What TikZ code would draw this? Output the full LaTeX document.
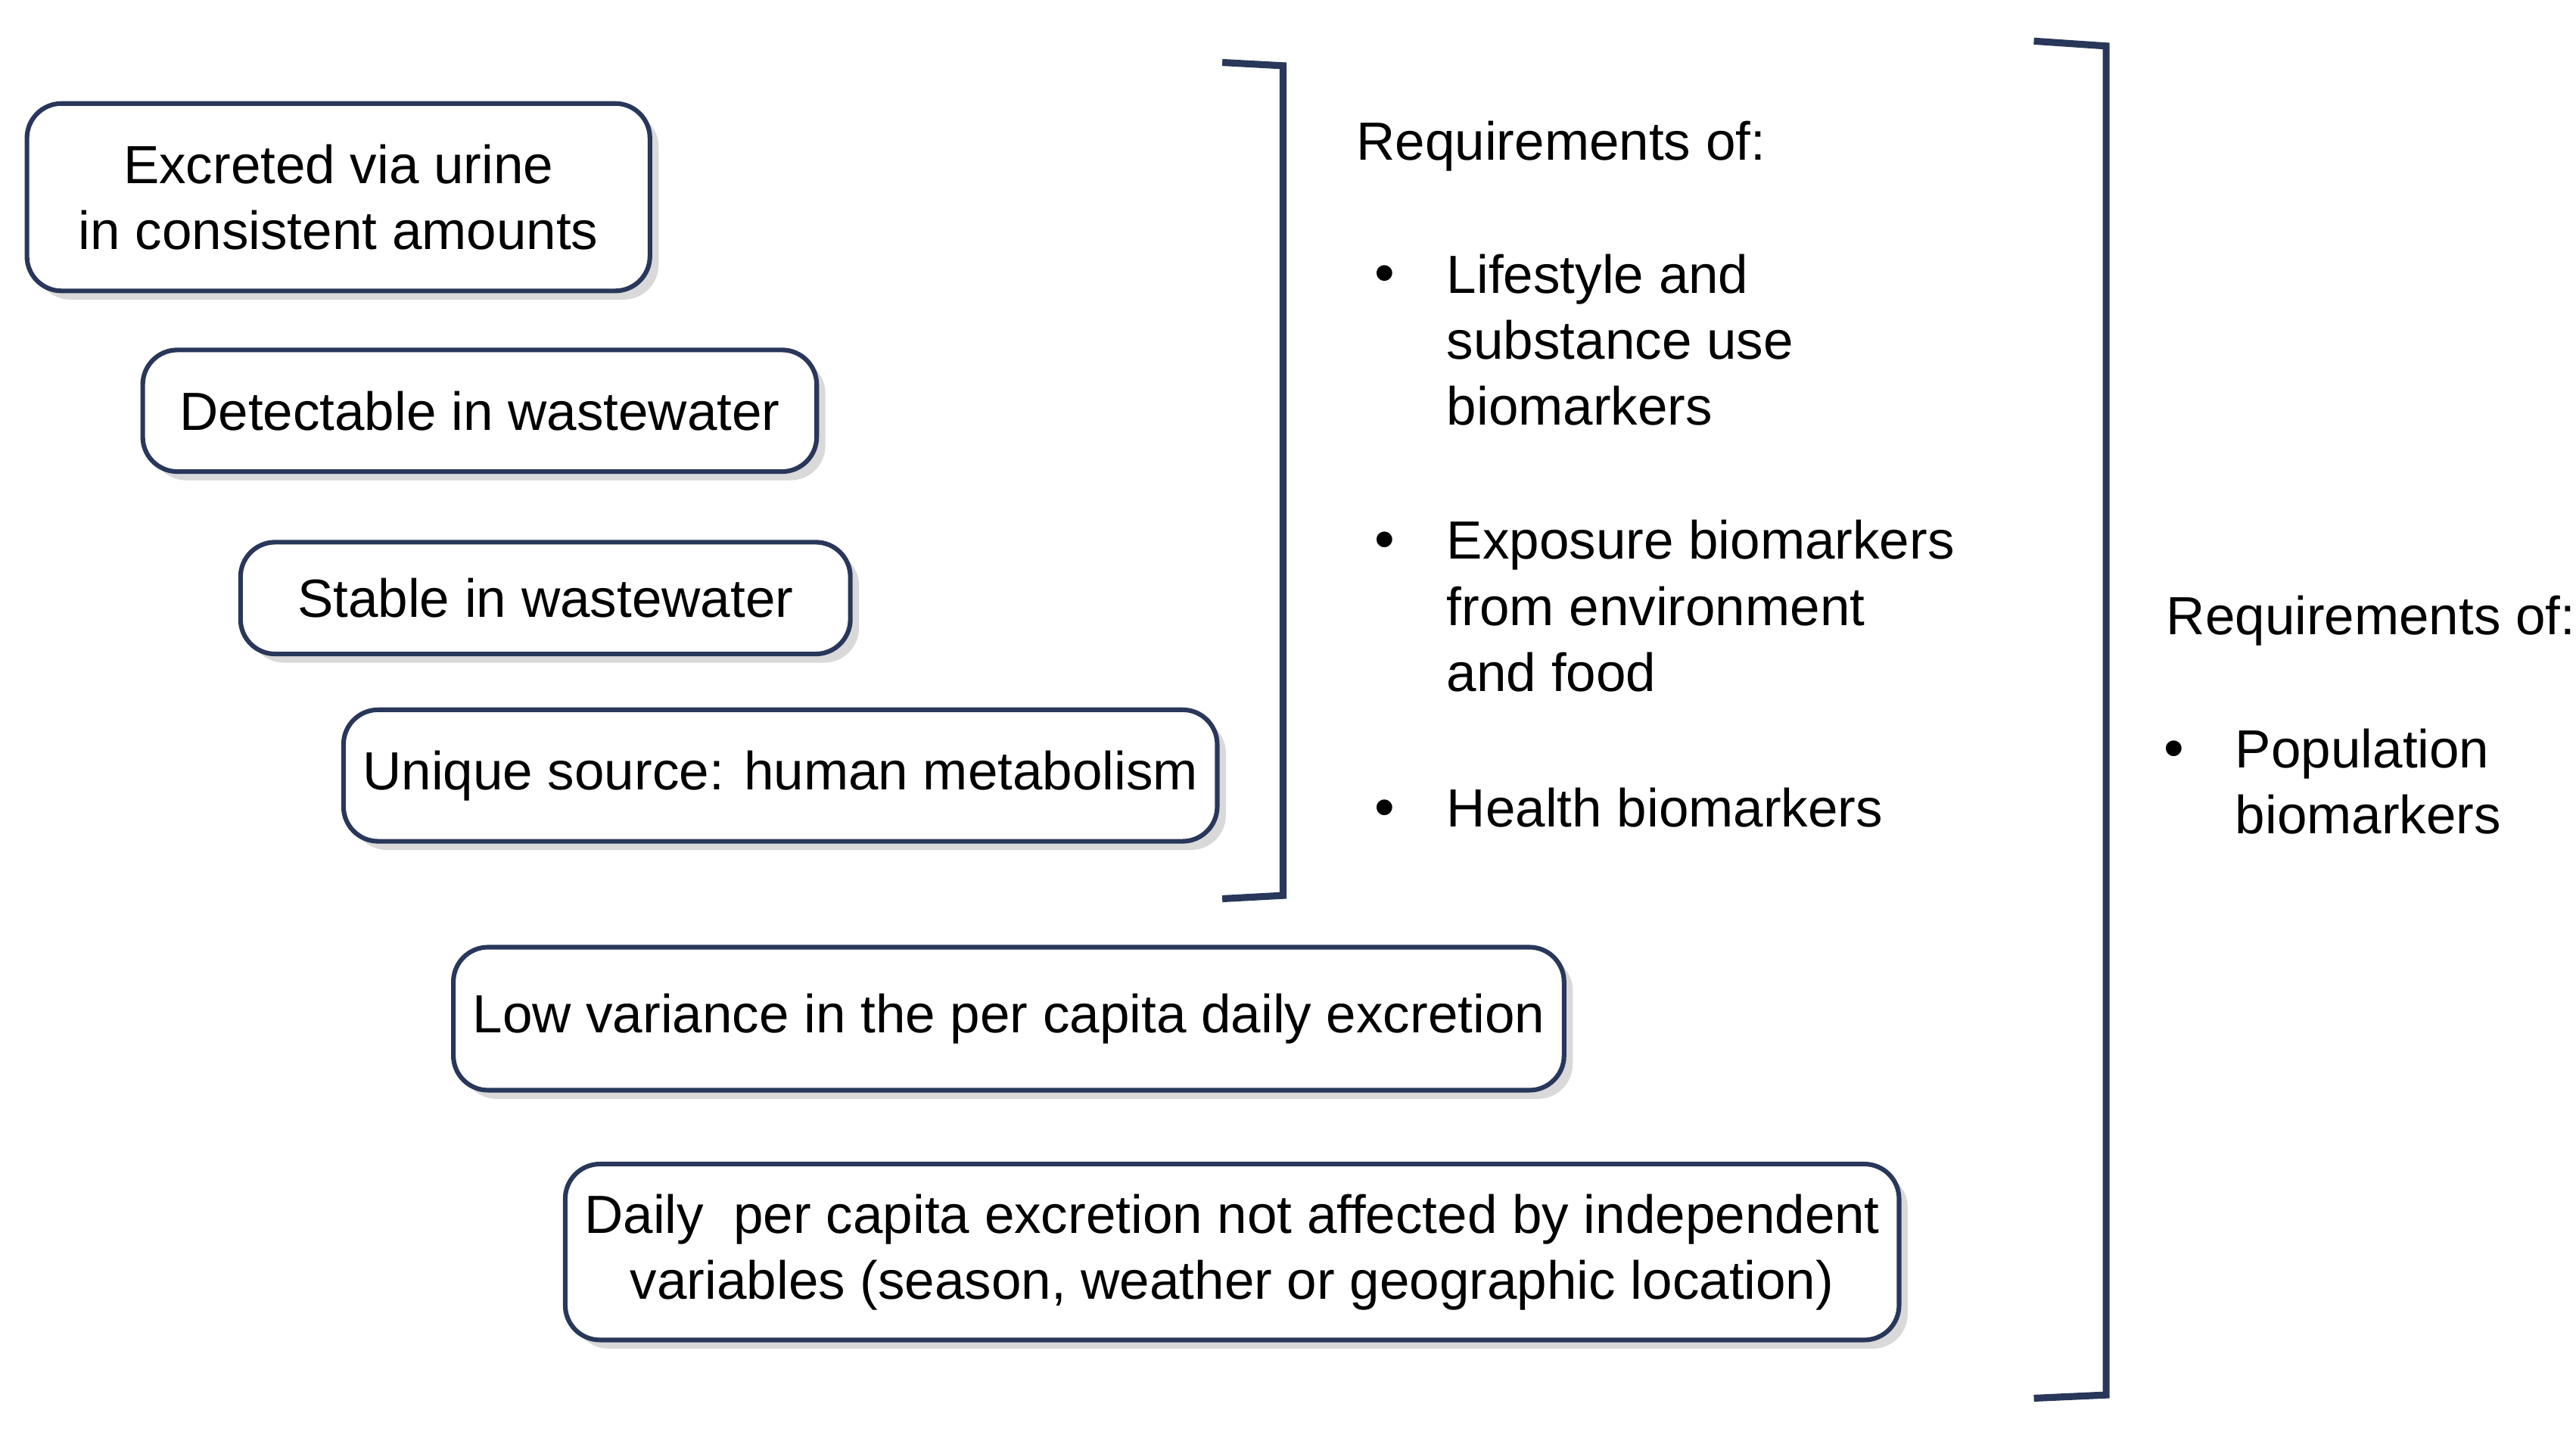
\documentclass[tikz,border=0pt]{standalone}
\usepackage{fontspec}
\setmainfont{Liberation Sans}
\usetikzlibrary{shadows}
\definecolor{navy}{RGB}{40,55,90}

\begin{document}
\begin{tikzpicture}[x=0.01cm,y=-0.01cm,
	req/.style={draw=navy, thick, rounded corners=6pt, fill=white, align=center,
		font=\fontsize{9.3}{11.4}\selectfont,
		drop shadow={shadow xshift=1.5pt, shadow yshift=-1.5pt, fill=black!25, opacity=0.6}},
	txt/.style={anchor=north west, align=left, inner sep=0pt, font=\fontsize{9.3}{11.4}\selectfont},
	brk/.style={draw=navy, very thick}]
		
		\useasboundingbox (0,0) rectangle (1568,875);
		
		% criteria boxes
		\node [req, minimum width=3.79cm, minimum height=1.14cm] (urine) at (206,120) {Excreted via urine\\in consistent amounts};
		\node [req, minimum width=4.10cm, minimum height=0.74cm] (detect) at (292,250) {Detectable in wastewater};
		\node [req, minimum width=3.71cm, minimum height=0.68cm] (stable) at (332,364) {Stable in wastewater};
		\node [req, minimum width=5.19cm, minimum height=0.80cm] (source) at (475,472) {Unique source: human metabolism};
		\node [req, minimum width=6.56cm, minimum height=0.87cm] (variance) at (614,620) {Low variance in the per capita daily excretion};
		\node [req, minimum width=7.87cm, minimum height=1.07cm] (daily) at (750,762) {Daily \ per capita excretion not affected by independent\\variables (season, weather or geographic location)};
		
		% brackets
		\draw [brk] (744,38) -- (781,40) -- (781,545) -- (744,547);
		\draw [brk] (1238,25) -- (1282,28) -- (1282,849) -- (1238,851);
		
		% first group
		\node [txt] (reqA) at (825,73) {Requirements of:};
		\node [txt] (lifestyle) at (880,154) {Lifestyle and\\substance use\\biomarkers};
		\node [txt] (exposure) at (880,316) {Exposure biomarkers\\from environment\\and food};
		\node [txt] (health) at (880,479) {Health biomarkers};
		\foreach \n in {lifestyle, exposure, health}
			\node [anchor=east, inner sep=0pt] at ([xshift=-0.3cm, yshift=-0.16cm]\n.north west) {\textbullet};
		
		% second group
		\node [txt] (reqB) at (1318,362) {Requirements of:};
		\node [txt] (population) at (1360,443) {Population\\biomarkers};
		\node [anchor=east, inner sep=0pt] at ([xshift=-0.3cm, yshift=-0.16cm]population.north west) {\textbullet};
	\end{tikzpicture}
\end{document}
